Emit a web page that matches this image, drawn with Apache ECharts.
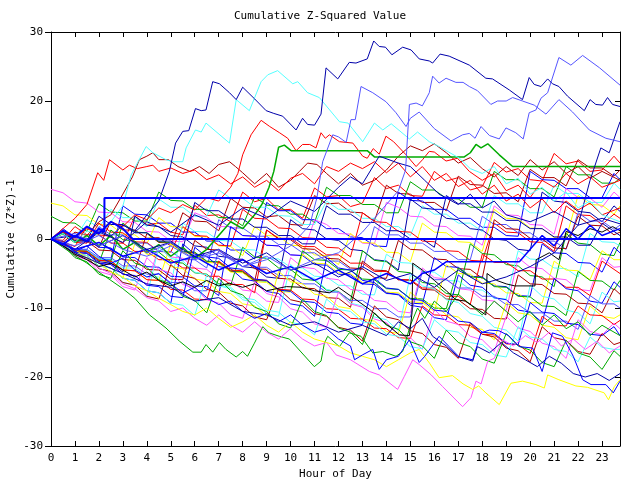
<!DOCTYPE html>
<html><head><meta charset="utf-8">
<script src="https://cdn.jsdelivr.net/npm/echarts@6/dist/echarts.min.js"></script>
<style>html,body{margin:0;padding:0;background:#fff}#c{width:640px;height:480px}</style>
</head><body><div id="c"></div>
<script>
// ---- data ----
const halfHours = [0,0.5,1,1.5,2,2.5,3,3.5,4,4.5,5,5.5,6,6.5,7,7.5,8,8.5,9,9.5,10,10.5,11,11.5,12,12.5,13,13.5,14,14.5,15,15.5,16,16.5,17,17.5,18,18.5,19,19.5,20,20.5,21,21.5,22,22.5,23,23.5,23.75];
const xTicks = [0,1,2,3,4,5,6,7,8,9,10,11,12,13,14,15,16,17,18,19,20,21,22,23];
const yTicks = [-30,-20,-10,0,10,20,30];

// half-hourly background walks
const s1  = [0,-0.4,-1.1,1.8,0.6,0.4,-0.6,3.3,2.1,2.3,1.0,0.6,4.9,3.4,3.5,2.5,6.8,5.4,5.9,4.2,4.3,3.0,7.4,6.1,6.3,4.7,5.2,8.9,7.3,7.8,6.3,6.2,9.8,8.4,8.9,7.1,7.6,11.1,9.7,10.2,8.6,8.4,12.4,10.9,11.3,9.8,10.0,12.0,11.0];
const s2  = [0,1.1,0.0,-0.1,-1.2,2.6,1.3,1.3,0.1,0.2,-1.0,3.8,2.6,2.5,1.2,5.9,4.6,4.5,3.2,3.4,2.1,2.0,6.3,5.1,5.2,3.9,3.8,2.6,7.8,6.6,6.5,5.3,5.3,4.1,9.1,7.9,7.8,6.6,6.7,5.4,10.1,8.9,8.9,7.7,11.5,10.3,10.3,9.1,10.0];
const s3  = [3.3,2.4,2.3,1.1,5.1,3.9,3.8,2.6,2.6,6.8,5.6,5.5,4.3,4.3,3.1,3.1,1.9,6.1,4.9,4.8,3.6,3.6,2.4,7.5,6.3,6.3,5.0,5.0,3.8,3.8,8.3,7.1,7.1,5.9,5.8,4.6,4.6,9.8,8.6,8.6,7.3,7.3,6.1,10.5,9.3,9.3,8.1,8.1,8.8];
const s4  = [0,-0.4,-1.5,-1.7,-2.9,-3.0,4.8,3.6,3.5,2.3,2.3,1.0,1.0,-0.3,-0.3,-1.6,-1.6,-2.9,5.3,4.1,4.1,2.8,2.8,1.5,1.5,0.3,0.2,-1.0,-1.1,6.8,5.6,5.5,4.3,4.3,3.0,3.0,1.7,1.7,0.5,0.4,9.8,8.6,8.5,7.3,7.3,6.0,6.0,9.5,8.6];
const s5  = [0,1.3,0.1,2.8,1.6,4.3,3.1,3.1,1.8,5.8,4.6,4.6,3.3,3.3,7.1,5.9,5.9,4.6,4.6,3.4,3.3,2.1,2.1,5.5,4.3,4.3,3.0,3.0,1.8,1.8,0.5,4.8,3.6,3.6,2.3,2.3,1.1,6.3,5.1,5.1,3.8,3.8,7.8,6.6,6.6,5.3,5.3,8.1,7.2];
const s6  = [7.2,6.7,5.4,5.2,3.9,3.8,2.5,2.4,1.1,1.0,-0.3,-0.4,3.8,3.1,1.8,1.8,0.5,0.4,-0.9,-1.0,-2.3,-2.4,2.8,2.1,0.8,0.7,-0.6,-0.7,5.3,4.6,3.3,3.2,1.9,1.8,0.5,0.4,-0.9,4.8,3.5,3.4,2.1,2.0,0.7,7.3,6.0,5.9,4.6,6.8,6.0];
const s7  = [5.2,4.8,3.5,3.4,2.1,2.0,0.7,0.6,-0.7,3.1,1.8,1.7,0.4,0.3,-1.0,-1.1,-2.4,1.8,0.5,0.4,-0.9,-1.0,-2.3,-2.4,-3.7,0.8,-0.5,-0.6,-1.9,-2.0,-3.3,2.3,1.0,0.9,-0.4,-0.5,-1.8,4.3,3.0,2.9,1.6,1.5,0.2,0.1,6.3,5.0,4.9,3.6,4.8];
const s8  = [0,-0.5,-1.8,-2.0,-3.3,-3.5,-4.8,3.3,2.0,1.8,0.5,0.3,-1.0,-1.2,-2.5,-2.7,-4.0,-4.2,-5.5,-5.7,2.8,1.5,1.3,0.0,-0.2,-1.5,-1.7,-3.0,-3.2,-4.5,5.8,4.5,4.3,3.0,2.8,1.5,1.3,0.0,-0.2,-1.5,-1.7,6.8,5.5,5.3,4.0,3.8,2.5,4.8,4.0];
const s9  = [0,0.8,-0.5,-0.6,2.3,1.0,0.9,-0.4,-0.5,-1.8,-1.9,1.8,0.5,0.4,-0.9,-1.0,4.3,3.0,2.9,1.6,1.5,0.2,0.1,-1.2,-1.3,-2.6,3.8,2.5,2.4,1.1,1.0,-0.3,-0.4,-1.7,-1.8,-3.1,-3.2,2.3,1.0,0.9,-0.4,-0.5,-1.8,4.8,3.5,3.4,2.1,3.6,3.0];
const s10 = [0,-0.3,-1.5,-1.5,1.8,0.6,0.6,-0.6,-0.6,-1.8,-1.8,-3.0,-3.0,-4.2,2.8,1.6,1.6,0.4,0.4,-0.8,-0.8,-2.0,-2.0,-3.2,-3.2,-4.4,-4.4,1.8,0.6,0.6,-0.6,-0.6,-1.8,-1.8,-3.0,-3.0,3.3,2.1,2.1,0.9,0.9,-0.3,-0.3,-1.5,3.8,2.6,2.6,1.4,2.0];
const s11 = [0,-0.4,-1.7,-1.8,-3.1,-3.2,-4.5,-4.6,0.8,-0.5,-0.6,-1.9,-2.0,-3.3,-3.4,-4.7,-4.8,-6.1,1.3,0.0,-0.1,-1.4,-1.5,-2.8,-2.9,-4.2,-4.3,-5.6,-5.7,-0.2,-1.5,-1.6,-2.9,-3.0,-4.3,-4.4,-5.7,2.8,1.5,1.4,0.1,0.0,-1.3,-1.4,3.3,2.0,1.9,0.6,1.0];
const s12 = [0,-0.5,-1.9,-2.1,-3.5,1.3,-0.1,-0.3,-1.7,-1.9,-3.3,-3.5,-4.9,-5.1,-6.5,-6.7,-1.2,-2.6,-2.8,-4.2,-4.4,-5.8,-6.0,-7.4,-7.6,-9.0,-1.7,-3.1,-3.3,-4.7,-4.9,-6.3,-6.5,-7.9,-8.1,-0.7,-2.1,-2.3,-3.7,-3.9,-5.3,-5.5,-6.9,0.8,-0.6,-0.8,-2.2,-2.4,-0.5];
const s13 = [0,-0.3,-1.6,-1.6,-2.9,-2.9,-4.2,-4.2,-5.5,-5.5,-6.8,2.3,1.1,1.0,-0.2,-0.3,-1.5,-1.6,-2.8,-2.9,-4.1,-4.2,-5.4,-5.5,-6.7,-6.8,-8.0,-8.1,-2.2,-3.4,-3.5,-4.7,-4.8,-6.0,-6.1,-7.3,-7.4,-8.6,-8.7,-1.7,-2.9,-3.0,-4.2,-4.3,-5.5,0.8,-0.4,-0.5,-1.0];
const s14 = [0,1.5,0.2,0.1,-1.2,-1.3,-2.6,-2.7,-4.0,-4.1,-5.4,-5.5,-6.8,-6.9,-8.2,1.8,0.5,0.4,-0.9,-1.0,-2.3,-2.4,-3.7,-3.8,-5.1,-5.2,-6.5,-6.6,-7.9,-8.0,-9.3,-9.4,-2.7,-4.0,-4.1,-5.4,-5.5,-6.8,-6.9,-8.2,-8.3,-0.7,-2.0,-2.1,-3.4,-3.5,-4.8,-1.2,-2.0];
const s15 = [0,-0.4,-1.7,-1.8,-3.1,-3.2,-4.5,-4.6,-5.9,-6.0,-0.7,-2.0,-2.1,-3.4,-3.5,-4.8,-4.9,-6.2,-6.3,-7.6,-7.7,-2.2,-3.5,-3.6,-4.9,-5.0,-6.3,-6.4,-7.7,-7.8,-9.1,-9.2,-10.5,-3.7,-5.0,-5.1,-6.4,-6.5,-7.8,-7.9,-9.2,-9.3,-3.2,-4.5,-4.6,-5.9,-1.7,-3.0,-3.0];
const s16 = [0,-0.5,-1.9,-2.1,-3.5,-3.7,-5.1,-5.3,-6.7,-1.2,-2.6,-2.8,-4.2,-4.4,-5.8,-6.0,-7.4,-7.6,-9.0,-9.2,-2.7,-4.1,-4.3,-5.7,-5.9,-7.3,-7.5,-8.9,-9.1,-10.5,-10.7,-4.2,-5.6,-5.8,-7.2,-7.4,-8.8,-9.0,-10.4,-2.7,-4.1,-4.3,-5.7,-5.9,-7.3,-7.5,-2.7,-4.1,-4.0];
const s17 = [0,-0.2,1.8,0.6,0.6,-0.6,-0.6,-1.8,-1.8,-3.0,-3.0,-4.2,-4.2,-5.4,-5.4,-6.6,-6.6,-7.8,1.3,0.1,0.1,-1.1,-1.1,-2.3,-2.3,-3.5,-3.5,-4.7,-4.7,-5.9,-5.9,-7.1,-7.1,-8.3,-8.3,-9.5,-2.2,-3.4,-3.4,-4.6,-4.6,-5.8,-5.8,-7.0,-7.0,-8.2,-3.2,-4.4,-5.0];
const s18 = [0,-0.4,-1.7,-1.8,-3.1,-3.2,2.3,1.0,0.9,-0.4,-0.5,-1.8,-1.9,-3.2,-3.3,-4.6,-4.7,-6.0,-6.1,-7.4,-7.5,-1.7,-3.0,-3.1,-4.4,-4.5,-5.8,-5.9,-7.2,-7.3,-8.6,-8.7,-10.0,-10.1,-4.2,-5.5,-5.6,-6.9,-7.0,-8.3,-8.4,-9.7,-9.8,-11.1,-4.7,-6.0,-6.1,-7.4,-6.0];
const s19 = [0,-0.6,-2.1,-2.4,-3.9,-4.2,-5.7,-6.0,-7.5,-7.8,-9.3,-0.7,-2.2,-2.5,-4.0,-4.3,-5.8,-6.1,-7.6,-7.9,-9.4,-9.7,-11.2,-2.7,-4.2,-4.5,-6.0,-6.3,-7.8,-8.1,-9.6,-9.9,-11.4,-11.7,-5.2,-6.7,-7.0,-8.5,-8.8,-10.3,-10.6,-12.1,-5.7,-7.2,-7.5,-9.0,-9.3,-6.2,-7.0];
const s20 = [0,1.1,-0.2,-0.3,-1.6,-1.7,-3.0,-3.1,-4.4,-4.5,-5.8,-5.9,-0.2,-1.5,-1.6,-2.9,-3.0,-4.3,-4.4,-5.7,-5.8,-7.1,-7.2,-8.5,-8.6,-9.9,-3.2,-4.5,-4.6,-5.9,-6.0,-7.3,-7.4,-8.7,-8.8,-10.1,-10.2,-11.5,-11.6,-5.2,-6.5,-6.6,-7.9,-8.0,-9.3,-9.4,-10.7,-7.2,-8.0];
const s21 = [0,-0.7,-2.3,-2.7,-4.3,-4.7,-6.3,-6.7,-8.3,-1.2,-2.8,-3.2,-4.8,-5.2,-6.8,-7.2,-8.8,-9.2,-10.8,-11.2,-3.7,-5.3,-5.7,-7.3,-7.7,-9.3,-9.7,-11.3,-11.7,-13.3,-5.2,-6.8,-7.2,-8.8,-9.2,-10.8,-11.2,-12.8,-13.2,-14.8,-6.7,-8.3,-8.7,-10.3,-10.7,-12.3,-7.7,-9.1,-9.0];
const s22 = [0,-0.3,-1.5,-1.5,-2.7,-2.7,-3.9,-3.9,-5.1,-5.1,-6.3,-6.3,-7.5,-7.5,-1.7,-2.9,-2.9,-4.1,-4.1,-5.3,-5.3,-6.5,-6.5,-7.7,-7.7,-8.9,-8.9,-10.1,-10.1,-11.3,-11.3,-4.7,-5.9,-5.9,-7.1,-7.1,-8.3,-8.3,-9.5,-9.5,-10.7,-10.7,-11.9,-11.9,-13.1,-8.2,-9.4,-9.4,-10.0];
const s23 = [0,-0.6,-2.1,-2.4,-3.9,-4.2,-5.7,-0.7,-2.2,-2.5,-4.0,-4.3,-5.8,-6.1,-7.6,-7.9,-9.4,-9.7,-11.2,-4.7,-6.2,-6.5,-8.0,-8.3,-9.8,-10.1,-11.6,-11.9,-13.4,-13.7,-7.7,-9.2,-9.5,-11.0,-11.3,-12.8,-13.1,-14.6,-9.2,-10.7,-11.0,-12.5,-12.8,-14.3,-14.6,-9.7,-11.2,-11.5,-11.0];
const s24 = [0,-0.4,-1.7,-1.8,-3.1,-3.2,-4.5,-4.6,-5.9,-6.0,-7.3,-7.4,-8.7,-8.8,-3.2,-4.5,-4.6,-5.9,-6.0,-7.3,-7.4,-8.7,-8.8,-10.1,-10.2,-11.5,-11.6,-12.9,-13.0,-14.3,-14.4,-9.7,-11.0,-11.1,-12.4,-12.5,-13.8,-13.9,-15.2,-15.3,-16.6,-11.2,-12.5,-12.6,-9.7,-11.0,-11.1,-12.4,-11.8];
const s25 = [0,-0.8,-2.5,-3.0,-4.7,-5.2,-6.9,-7.4,-2.7,-4.4,-4.9,-6.6,-7.1,-8.8,-9.3,-11.0,-11.5,-6.2,-7.9,-8.4,-10.1,-10.6,-12.3,-12.8,-7.7,-9.4,-9.9,-11.6,-12.1,-13.8,-14.3,-16.0,-10.2,-11.9,-12.4,-14.1,-14.6,-16.3,-11.2,-12.9,-13.4,-15.1,-15.6,-17.3,-11.7,-13.4,-13.9,-12.2,-13.0];
const s26 = [0,-0.5,-1.9,-2.1,-3.5,-3.7,-5.1,-5.3,-6.7,-6.9,-8.3,-8.5,-1.2,-2.6,-2.8,-4.2,-4.4,-5.8,-6.0,-7.4,-7.6,-9.0,-9.2,-10.6,-10.8,-12.2,-12.4,-5.7,-7.1,-7.3,-8.7,-8.9,-10.3,-10.5,-11.9,-12.1,-13.5,-13.7,-15.1,-15.3,-9.2,-10.6,-10.8,-12.2,-12.4,-13.8,-14.0,-12.7,-14.0];
const s27 = [0,-0.7,-2.3,-2.7,-4.3,-4.7,-6.3,-6.7,-8.3,-8.7,-3.7,-5.3,-5.7,-7.3,-7.7,-9.3,-9.7,-11.3,-11.7,-7.2,-8.8,-9.2,-10.8,-11.2,-12.8,-13.2,-14.8,-9.7,-11.3,-11.7,-13.3,-13.7,-15.3,-15.7,-17.3,-12.2,-13.8,-14.2,-15.8,-16.2,-17.8,-12.7,-14.3,-14.7,-16.3,-16.7,-13.7,-15.3,-15.0];
const s28 = [0,-0.6,-2.1,-2.4,-3.9,-4.2,-5.7,-6.0,-7.5,-7.8,-9.3,-9.6,-11.1,-5.2,-6.7,-7.0,-8.5,-8.8,-10.3,-10.6,-12.1,-12.4,-13.9,-8.7,-10.2,-10.5,-12.0,-12.3,-13.8,-14.1,-15.6,-15.9,-11.7,-13.2,-13.5,-15.0,-15.3,-16.8,-17.1,-12.7,-14.2,-14.5,-16.0,-16.3,-17.8,-14.2,-15.7,-16.0,-16.0];
const s29 = [0,-0.9,-2.7,-3.3,-5.1,-5.7,-1.7,-3.5,-4.1,-5.9,-6.5,-8.3,-8.9,-10.7,-5.7,-7.5,-8.1,-9.9,-10.5,-12.3,-12.9,-8.7,-10.5,-11.1,-12.9,-13.5,-15.3,-10.7,-12.5,-13.1,-14.9,-15.5,-17.3,-13.2,-15.0,-15.6,-17.4,-18.0,-13.7,-15.5,-16.1,-17.9,-18.5,-14.7,-16.5,-17.1,-18.9,-16.2,-17.0];
const s30 = [0,0.9,-0.3,-0.3,3.3,2.1,2.1,0.9,0.9,-0.3,-0.3,-1.5,5.3,4.1,4.1,2.9,2.9,1.7,1.7,0.5,0.5,-0.7,-0.7,4.8,3.6,3.6,2.4,2.4,1.2,1.2,0.0,0.0,-1.2,6.3,5.1,5.1,3.9,3.9,2.7,2.7,1.5,1.5,0.3,0.3,-0.9,-0.9,2.3,1.1,0.5];

// prominent walks as [hour, value]
const navyTop = [[0,0],[0.5,-0.8],[1,0.5],[1.5,-0.5],[2,1.2],[2.5,0.4],[3,2.0],[3.5,1.2],[4,3.5],[4.5,5.5],[4.94,9.8],[5.2,13.9],[5.5,15.6],[5.75,15.7],[6.03,18.9],[6.27,18.6],[6.47,18.7],[6.75,22.8],[7.03,22.5],[7.45,21.2],[7.73,20.2],[8.0,22.0],[8.5,20.3],[8.98,18.6],[9.3,18.2],[9.67,17.8],[10.23,15.8],[10.5,17.5],[10.71,16.6],[11.0,16.5],[11.27,18.1],[11.48,24.8],[11.97,23.2],[12.45,25.6],[12.73,25.5],[13.2,26.1],[13.47,28.7],[13.7,27.9],[13.96,27.8],[14.23,26.7],[14.68,27.8],[15.03,27.4],[15.37,26.1],[15.79,25.8],[15.93,25.5],[16.24,26.8],[16.62,26.5],[17.46,25.2],[18.15,23.3],[18.43,23.2],[19.13,21.6],[19.68,20.2],[19.96,23.4],[20.17,22.4],[20.45,22.1],[20.73,23.2],[20.93,22.5],[21.2,22.1],[21.56,20.7],[22.26,18.6],[22.5,20.2],[22.74,19.5],[23.02,19.4],[23.23,20.5],[23.44,19.5],[23.75,19.2]];
const cyanTop = [[0,0],[0.5,0.8],[1,-0.5],[1.5,1.2],[2,0.5],[2.5,2.5],[3,4.8],[3.35,9.3],[3.97,13.4],[4.25,12.5],[4.8,11.5],[5.08,11.2],[5.5,11.2],[5.64,13.2],[6.03,15.8],[6.27,15.5],[6.47,16.8],[7.45,13.9],[7.73,20.2],[8.28,18.6],[8.77,22.8],[9.05,23.8],[9.46,24.4],[10.09,22.5],[10.3,22.8],[10.71,21.2],[11.2,20.5],[12.04,17.0],[12.4,16.8],[13.01,14.1],[13.5,16.8],[13.85,15.8],[14.2,16.7],[14.96,14.5],[15.3,15.5],[15.79,14.1],[16.2,13.4],[16.6,12.6],[17.05,11.7],[17.5,10.2],[18,9.5],[18.5,10.5],[19,8.0],[19.5,8.8],[20,6.5],[20.5,7.5],[21,5.5],[21.5,6.8],[22,4.5],[22.5,5.5],[23,3.5],[23.75,2.5]];
const blueMid1 = [[0,0],[1,-1],[2,0.5],[3,-1.5],[4,-2.5],[5,-1],[6,-3],[7,-2],[8,-4],[9,-3],[10,-1],[10.8,2],[11.1,6],[11.34,11.2],[11.76,15.1],[12.0,14.8],[12.32,14.0],[12.52,17.3],[12.7,17.3],[12.94,22.1],[13.43,21.2],[13.98,19.9],[14.4,18.3],[14.82,16.3],[15.0,17.5],[15.37,18.4],[16.0,16.0],[16.7,14.2],[17.18,15.1],[17.46,15.3],[17.7,14.6],[17.95,16.3],[18.3,15.0],[18.71,14.5],[18.99,16.1],[19.4,15.4],[19.71,14.5],[19.96,18.3],[20.24,18.7],[20.45,20.4],[20.73,21.2],[21.2,26.3],[21.7,25.2],[22.19,26.6],[22.9,24.8],[23.75,22.3]];
const blueMid2 = [[0,0],[1,0.8],[2,-1],[3,0.5],[4,-2],[5,-0.5],[6,-3],[7,-1.5],[8,-4],[9,-2.5],[10,-4.5],[11,-3],[12,-2],[13,1],[13.5,3],[14,5],[14.5,7],[14.8,10],[14.96,19.5],[15.24,19.7],[15.5,19.3],[15.79,21.2],[15.93,23.6],[16.2,22.6],[16.49,23.3],[16.9,22.7],[17.2,22.7],[17.46,22.1],[17.8,21.5],[18.36,19.5],[18.64,20.0],[19.0,20.0],[19.27,20.5],[19.68,20.0],[20.17,19.4],[20.66,18.1],[21.2,20.2],[21.77,18.4],[22.47,15.8],[23.16,14.6],[23.75,14.1]];
const redUpper = [[0,0],[0.5,1],[1,0.2],[1.5,1.5],[2,0.8],[2.5,2.5],[3,1.8],[3.5,3.5],[4,2.8],[4.5,4.5],[5,3.8],[5.5,5.0],[6,4.2],[6.5,6.0],[7,5.5],[7.5,7.5],[7.8,9.5],[8.0,12.2],[8.35,15.1],[8.77,17.2],[9.13,16.3],[9.54,15.4],[9.88,14.6],[10.23,12.8],[10.5,13.7],[10.8,13.7],[11.06,13.2],[11.27,15.4],[11.45,14.6],[11.62,15.1],[12.04,14.1],[12.6,13.9],[13.01,12.0],[13.2,11.7],[13.45,13.1],[13.7,12.3],[13.98,14.9],[14.3,14.1],[14.82,12.2],[15.24,10.5],[15.51,11.5],[15.79,12.7],[16.0,12.6],[16.49,11.3],[16.97,11.7],[17.46,9.8],[18,8.5],[18.5,9.5],[19,7.0],[19.5,7.8],[20,6.0],[20.5,8.5],[21,7.5],[21.5,9.5],[22,8.0],[22.5,9.0],[23,7.5],[23.75,8.5]];
const redEarly = [[0,0],[0.5,1.5],[1,3],[1.5,5],[1.95,9.6],[2.2,8.5],[2.44,11.5],[3.0,10.0],[3.27,10.7],[3.6,10.2],[4.0,10.5],[4.25,10.7],[4.5,9.8],[5.0,10.3],[5.5,9.5],[6.0,10.0],[6.5,8.6],[7,9.3],[7.5,8.0],[8,9.0],[8.5,7.5],[9,8.5],[9.5,7.0],[10,8.8],[10.5,9.5],[11,8.0],[11.5,10.5],[12,9.8],[12.5,11.0],[13,10.2],[13.5,11.2],[14,9.6],[14.5,11.0],[15,9.0],[15.5,10.5],[16,8.5],[16.5,9.5],[17,7.6],[17.5,8.5],[18,6.5],[18.5,7.8],[19,5.5],[19.5,6.5],[20,4.5],[20.5,5.8],[21,3.8],[21.5,5.5],[22,4.2],[22.5,5.2],[23,3.5],[23.75,4.5]];
const darkRedUp = [[0,0],[0.5,-0.5],[1,1.0],[1.5,0.5],[2,2.5],[2.5,3.5],[3,6.5],[3.4,9],[3.69,11.5],[4.0,12.0],[4.25,12.5],[4.5,11.5],[4.9,11.5],[5.3,10.5],[5.8,9.8],[6.2,10.5],[6.6,9.5],[7.0,10.8],[7.45,11.2],[7.7,10.5],[8.0,9.6],[8.5,8.0],[9,9.5],[9.5,7.5],[10,8.5],[10.37,9.8],[10.71,11.0],[11.1,10.8],[11.5,9.5],[12,8.0],[12.5,9.5],[13,7.8],[13.5,8.5],[14,10.0],[14.5,12.0],[15,13.5],[15.5,12.8],[16,13.8],[16.5,12.5],[17,11.0],[17.5,11.8],[18,10.2],[18.5,9.0],[19,10.5],[19.5,9.2],[20,11.5],[20.5,10.0],[21,11.2],[21.5,9.5],[22,10.5],[22.5,8.8],[23,9.8],[23.75,8.5]];
const greenFlat = [[0,0],[0.5,0.8],[1,-0.5],[1.5,0.5],[2,-1],[2.5,0.5],[3,-1.5],[3.5,-0.5],[4,-2.0],[4.5,-0.8],[5,-2.5],[5.5,-1.2],[6,-2.8],[6.5,-1.5],[7,0.5],[7.5,2.5],[8,1.5],[8.5,3.5],[8.8,5.0],[9.1,7.5],[9.3,9.8],[9.5,13.3],[9.74,13.6],[10.02,12.8],[13.2,12.8],[13.5,11.9],[17.25,11.9],[17.5,12.5],[17.74,13.7],[17.95,13.2],[18.23,13.8],[18.71,12.2],[19.27,10.5],[23.75,10.5]];
const greenLow = [[0,0],[0.5,-1.2],[1,-2.4],[1.5,-3.5],[2,-4.8],[2.5,-6.0],[3,-7.2],[3.5,-8.6],[4.11,-11.0],[4.8,-12.9],[5.36,-14.8],[5.92,-16.4],[6.27,-16.4],[6.47,-15.3],[6.75,-16.4],[7.03,-15.0],[7.3,-16.0],[7.73,-17.1],[8.0,-16.3],[8.2,-17.0],[8.49,-15.1],[8.84,-12.7],[9.1,-13.6],[9.53,-14.1],[9.95,-14.5],[10.99,-18.5],[11.27,-17.7],[11.41,-15.1],[11.55,-14.1],[12.04,-15.6],[12.45,-13.6],[12.94,-14.1],[13.43,-16.5],[13.85,-16.3],[14.4,-17.0],[14.68,-16.3],[15.0,-12.5],[15.3,-10.0],[15.6,-11.5],[16,-9.0],[16.5,-10.5],[17,-8.0],[17.5,-9.5],[18,-11.0],[18.5,-9.0],[19,-10.5],[19.5,-12.0],[20,-10.5],[20.5,-12.5],[21,-11.0],[21.5,-13.0],[22,-12.0],[22.5,-14.0],[23,-12.5],[23.75,-14.0]];
const magentaLow = [[0,0],[0.5,-1.0],[1,-2.2],[1.5,-3.0],[2,-4.2],[2.5,-5.0],[3,-6.5],[3.5,-7.2],[4,-8.5],[4.5,-9.0],[5,-10.5],[5.5,-10.0],[6,-11.5],[6.5,-12.5],[7,-11.0],[7.5,-12.5],[8,-13.5],[8.5,-12.0],[9,-13.5],[9.5,-14.5],[10,-13.0],[10.5,-14.5],[11,-15.5],[11.5,-15.0],[11.9,-16.8],[12.5,-17.5],[13.29,-19.2],[13.7,-19.7],[14.47,-21.8],[14.75,-19.9],[15.1,-17.5],[15.37,-18.2],[15.87,-19.7],[16.35,-21.4],[17.18,-24.3],[17.53,-23.0],[17.74,-20.6],[17.95,-21.0],[18.23,-17.7],[18.5,-17.3],[18.85,-14.6],[19.3,-15.5],[19.8,-14.0],[20.3,-15.0],[20.8,-13.5],[21.3,-15.5],[21.8,-14.5],[22.3,-16.0],[22.8,-14.8],[23.3,-16.5],[23.75,-15.5]];
const yellowLow = [[0,0],[0.5,-0.8],[1,-1.5],[1.5,-2.8],[2,-3.5],[2.5,-4.8],[3,-5.5],[3.5,-6.8],[4,-7.5],[4.5,-8.6],[5,-9.5],[5.5,-10.5],[6,-11.0],[6.5,-10.0],[7,-11.5],[7.5,-12.8],[8,-12.0],[8.5,-11.0],[9,-12.5],[9.5,-13.5],[10,-12.0],[10.5,-13.5],[11,-14.5],[11.5,-15.0],[12,-15.5],[12.5,-16.5],[13,-17.0],[13.5,-17.5],[14,-18.5],[14.5,-17.5],[15,-16.5],[15.37,-16.0],[15.8,-18.0],[16.2,-20.1],[16.76,-19.8],[17.2,-21.0],[17.6,-21.8],[17.85,-21.3],[18.15,-22.3],[18.71,-24.0],[19.2,-20.9],[19.68,-20.6],[20.24,-21.1],[20.59,-21.6],[20.73,-19.7],[21.2,-20.4],[21.91,-21.3],[22.4,-21.5],[23.09,-22.3],[23.27,-23.3],[23.51,-21.4],[23.75,-20.4]];
const blueLow = [[0,0],[0.5,-0.5],[1,-1.8],[1.5,-1.0],[2,-2.5],[2.5,-3.5],[3,-2.8],[3.5,-4.5],[4,-5.5],[4.5,-5.0],[5,-6.5],[5.5,-7.8],[6,-7.0],[6.5,-8.5],[7,-9.5],[7.5,-9.0],[8,-10.5],[8.5,-11.5],[9,-10.8],[9.5,-12.0],[10,-11.0],[10.5,-12.5],[11,-13.5],[11.5,-13.0],[12,-14.5],[12.5,-15.5],[12.67,-17.5],[13.0,-16.8],[13.43,-16.0],[13.7,-18.9],[14.0,-17.5],[14.5,-17.0],[14.96,-14.6],[15.37,-17.9],[15.6,-17.0],[16.2,-14.1],[16.62,-15.6],[17.04,-17.1],[17.6,-17.5],[17.95,-13.6],[18.3,-13.2],[18.7,-13.3],[19.1,-14.0],[19.55,-15.6],[20.1,-15.8],[20.5,-19.2],[20.93,-13.6],[21.35,-14.1],[21.8,-17.0],[22.19,-20.4],[22.54,-21.1],[23.16,-21.1],[23.47,-22.3],[23.75,-20.6]];
const navyLow = [[0,0],[1,-2],[2,-3.5],[3,-5],[4,-6.5],[5,-7],[6,-9],[7,-8.5],[8,-10.5],[9,-11],[10,-12.5],[11,-12],[12,-13.5],[13,-12.5],[14,-14],[14.5,-12],[15,-13],[15.5,-11.5],[15.93,-14.1],[16.5,-15.5],[16.97,-17.0],[17.6,-17.7],[17.8,-15.6],[18.3,-16.5],[18.8,-15.0],[19.3,-16.5],[19.8,-17.5],[20.3,-18.5],[20.8,-17.0],[21.3,-18.0],[21.8,-19.5],[22.3,-20.0],[22.8,-19.5],[23.3,-20.5],[23.75,-19.5]];
const navyRise = [[0,0],[1,0.5],[2,-1.0],[3,0.5],[4,-1.5],[5,-0.5],[6,-2.5],[7,-1.5],[8,-3.5],[9,-2.0],[10,-4.5],[11,-3.5],[12,-5.5],[13,-4.0],[14,-6.0],[15,-5.0],[16,-7.0],[17,-4.5],[18,-6.5],[19,-5.5],[20,-4.0],[21,-2.0],[22,2.0],[22.5,8.5],[22.95,13.2],[23.3,12.5],[23.75,17.0]];
const navyMid = [[0,0],[1,-1.5],[2,1.0],[3,-0.5],[4,2.5],[5,1.0],[6,3.5],[7,2.0],[8,4.5],[9,3.0],[10,5.5],[11,4.0],[12,7.5],[12.5,9.0],[13,8.0],[13.7,12.0],[14.5,11.0],[15,10.5],[15.6,8.5],[16.2,6.5],[17,5.0],[17.5,6.5],[18,4.5],[18.5,5.5],[19,3.5],[20,2.5],[21,4.0],[22,2.0],[23,3.0],[23.75,2.2]];
const blackMain = [[0,0],[0.5,-1],[1,-2.2],[1.5,-3.0],[2,-4.0],[2.5,-3.5],[3,-4.5],[3.5,-5.5],[4,-4.8],[4.5,-6],[5,-6.8],[5.5,-6.2],[6,-7.0],[6.5,-6.0],[7,-6.8],[7.45,-6.4],[8,-7.0],[8.5,-6.5],[9,-7.5],[9.82,-6.9],[10.5,-7.0],[11.0,-7.5],[11.62,-7.8],[12.0,-7.0],[12.73,-8.8],[13.3,-10.2],[13.57,-11.0],[13.85,-11.9],[14.54,-13.9],[14.96,-14.0],[15.07,-10.7],[15.1,-3.5],[15.5,-4.5],[16,-6.0],[16.5,-7.5],[16.9,-8.8],[17.3,-9.0],[18.15,-11.0],[18.2,-5.0],[18.6,-6.0],[19.0,-6.5],[19.36,-6.8],[20.2,-6.8],[20.25,-3.0],[20.8,-2.0],[21.2,-3.0],[21.5,1.1],[22,0.5],[22.5,1.5],[23,1.0],[23.44,1.8],[23.75,1.2]];
const blueFlatHigh = [[0,0],[0.5,-0.8],[1,0.5],[1.5,-0.3],[2,1.5],[2.23,1.0],[2.23,5.94],[23.75,5.94]];
const blueFlatZero = [[0,0],[0.5,1.2],[1,0.3],[1.5,1.8],[2,0.8],[2.5,2.5],[3,1.5],[3.41,0.0],[23.75,0.0]];
const blueFlatLow = [[0,0],[1,-1.5],[2,-0.5],[3,-2.5],[4,-1.5],[5,-3.5],[6,-2.5],[7,-4.5],[8,-3.0],[9,-5.0],[10,-4.0],[11,-6.0],[12,-4.5],[13,-6.5],[14,-5.0],[15,-6.5],[15.5,-5.0],[16,-4.5],[16.49,-3.3],[19.55,-3.3],[20,-1.5],[20.5,0.5],[21,-1.0],[21.5,1.5],[22,0.0],[22.5,2.0],[23,0.5],[23.75,1.5]];

// ---- palette ----
const C = {navy:'#0000aa', blue:'#0000ff', mid:'#5555ff', cyan:'#55ffff', red:'#ff0000',
  dred:'#aa0000', green:'#00aa00', mag:'#ff55ff', yel:'#ffff00', black:'#000000'};

const halfSeries = [
  [s1,C.red],[s2,C.dred],[s3,C.green],[s4,C.blue],[s5,C.cyan],[s6,C.mag],[s7,C.yel],[s8,C.navy],
  [s9,C.red],[s10,C.mid],[s11,C.dred],[s12,C.green],[s13,C.cyan],[s14,C.blue],[s15,C.yel],[s16,C.mag],
  [s17,C.red],[s18,C.green],[s19,C.blue],[s20,C.dred],[s21,C.cyan],[s22,C.mid],[s23,C.yel],[s24,C.red],
  [s25,C.mag],[s26,C.blue],[s27,C.dred],[s28,C.cyan],[s29,C.green],[s30,C.navy]
];
const paired = [
  [greenLow,C.green,1],[magentaLow,C.mag,1],[yellowLow,C.yel,1],[blueLow,C.blue,1],[navyLow,C.navy,1],
  [blackMain,C.black,1],[darkRedUp,C.dred,1],[redEarly,C.red,1],[redUpper,C.red,1],[greenFlat,C.green,1.5],
  [navyMid,C.navy,1],[blueFlatLow,C.blue,1.5],[navyRise,C.navy,1],[cyanTop,C.cyan,1],[blueMid2,C.mid,1],[blueMid1,C.mid,1],
  [navyTop,C.navy,1],[blueFlatZero,C.blue,2],[blueFlatHigh,C.blue,2]
];

const series = [];
halfSeries.forEach(([ys,col])=>{
  series.push({type:'line', data: ys.map((v,i)=>[halfHours[i],v]), showSymbol:false, symbol:'none',
    lineStyle:{color:col,width:1}, silent:true, animation:false});
});
paired.forEach(([d,col,w])=>{
  series.push({type:'line', data:d, showSymbol:false, symbol:'none',
    lineStyle:{color:col,width:w}, silent:true, animation:false});
});

const FONT = 'DejaVu Sans Mono';
const txt = {fontFamily:FONT, fontSize:11, color:'#000'};
const xLab = v => xTicks.includes(v) ? String(v) : '';
const yLab = v => yTicks.includes(v) ? String(v) : '';
const axLine = {show:true, onZero:false, lineStyle:{color:'#000',width:1}};

const chart = echarts.init(document.getElementById('c'), null, {renderer:'canvas'});
chart.setOption({
  animation:false,
  backgroundColor:'#fff',
  title:{text:'Cumulative Z-Squared Value', left:'center', top:6, textStyle:{...txt, fontWeight:'normal'}},
  grid:{left:51, right:20, top:32, bottom:34, containLabel:false, outerBoundsMode:'none'},
  xAxis:[
    {type:'value', min:0, max:23.75, interval:1, position:'bottom',
     axisLine:axLine,
     axisTick:{show:true, inside:true, length:5, lineStyle:{color:'#000'}},
     axisLabel:{...txt, margin:7, formatter:xLab},
     splitLine:{show:false},
     name:'Hour of Day', nameLocation:'middle', nameGap:22, nameTextStyle:{...txt}},
    {type:'value', min:0, max:23.75, interval:1, position:'top',
     axisLine:axLine,
     axisTick:{show:true, inside:true, length:5, lineStyle:{color:'#000'}},
     axisLabel:{show:false}, splitLine:{show:false}}
  ],
  yAxis:[
    {type:'value', min:-30, max:30, interval:10, position:'left',
     axisLine:axLine,
     axisTick:{show:true, inside:false, length:6, lineStyle:{color:'#000'}},
     axisLabel:{...txt, margin:8, formatter:yLab},
     splitLine:{show:false},
     name:'Cumulative (Z*Z)-1', nameLocation:'middle', nameGap:34, nameRotate:90, nameMoveOverlap:false, nameTextStyle:{...txt}},
    {type:'value', min:-30, max:30, interval:10, position:'right',
     axisLine:axLine,
     axisTick:{show:true, inside:true, length:5, lineStyle:{color:'#000'}},
     axisLabel:{show:false}, splitLine:{show:false}}
  ],
  series: series
});
</script></body></html>
